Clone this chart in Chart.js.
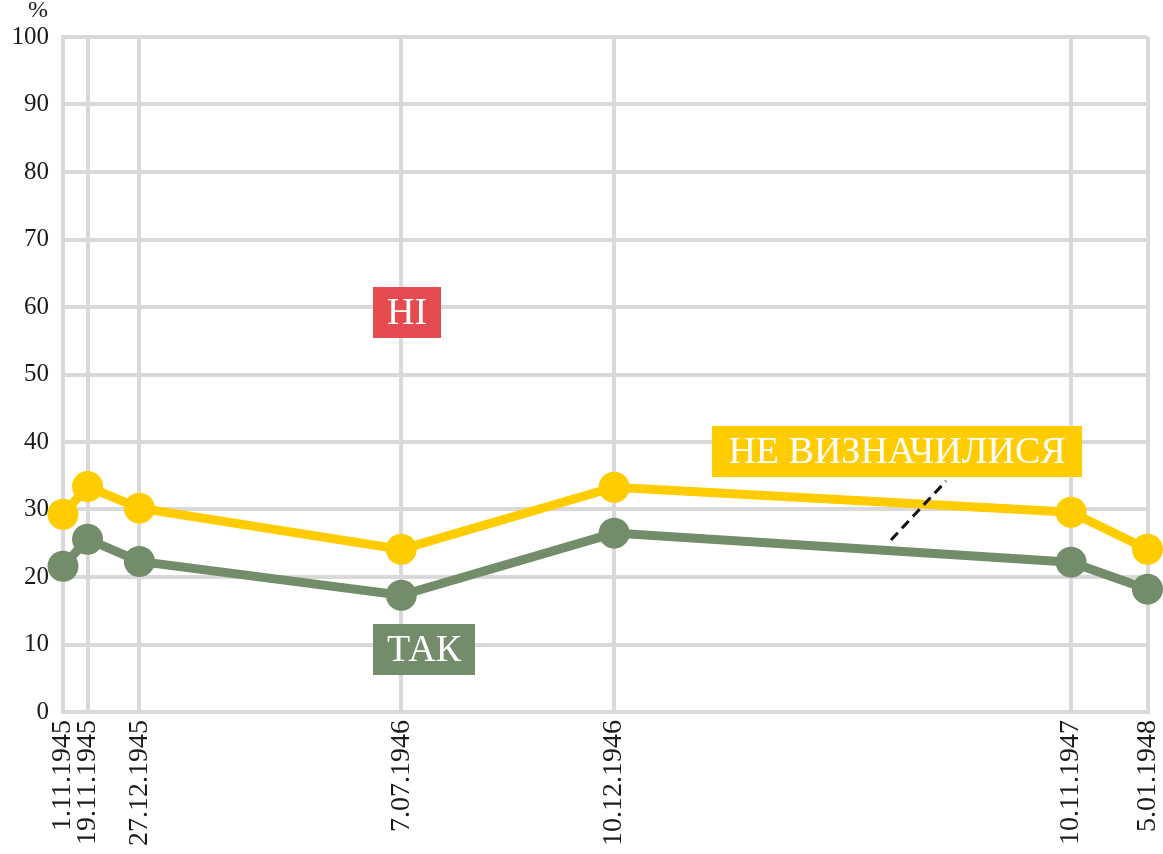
<!DOCTYPE html>
<html>
<head>
<meta charset="utf-8">
<script src="https://cdn.jsdelivr.net/npm/chart.js@4/dist/chart.umd.min.js"></script>
<style>
html,body{margin:0;padding:0;background:#fff;}
canvas{display:block;}
</style>
</head>
<body>
<canvas id="c" width="1163" height="854"></canvas>
<script>
// ---- data ----
const dateLabels = ['1.11.1945','19.11.1945','27.12.1945','7.07.1946','10.12.1946','10.11.1947','5.01.1948'];
const undecidedValues = [29.3, 33.4, 30.2, 24.1, 33.3, 29.6, 24.1]; // НЕ ВИЗНАЧИЛИСЯ (yellow)
const yesValues = [21.6, 25.6, 22.3, 17.3, 26.5, 22.2, 18.2];       // ТАК (green)
const yTickValues = [0,10,20,30,40,50,60,70,80,90,100];
const seriesNames = ['НЕ ВИЗНАЧИЛИСЯ','ТАК'];
const noLabel = 'НІ';
const unitLabel = '%';

// days since first date
function toDay(s){ const [d,m,y] = s.split('.').map(Number); return Date.UTC(y, m-1, d)/86400000; }
const day0 = toDay(dateLabels[0]);
const days = dateLabels.map(s => toDay(s) - day0);

const YELLOW = '#FFCC00', GREEN = '#738C6A', RED = '#E64C4F', GRID = '#D9D9D9';
const SERIF = "'Liberation Serif','DejaVu Serif',serif";

const annotations = {
  id: 'annotations',
  afterDatasetsDraw(chart){
    const ctx = chart.ctx;
    ctx.save();
    function box(text, l, t, r, b, color){
      ctx.fillStyle = color;
      ctx.fillRect(l, t, r-l, b-t);
      ctx.fillStyle = '#fff';
      ctx.font = "38px " + SERIF;
      ctx.textAlign = 'center';
      ctx.textBaseline = 'middle';
      ctx.fillText(text, (l+r)/2, (t+b)/2 + 2);
    }
    box(noLabel, 373, 287, 441, 338, RED);
    box(seriesNames[1], 373, 624, 475, 675, GREEN);
    box(seriesNames[0], 712, 426, 1082, 477, YELLOW);
    // leader line
    ctx.strokeStyle = '#111';
    ctx.lineWidth = 3;
    ctx.setLineDash([10,6]);
    ctx.beginPath();
    ctx.moveTo(891, 540);
    ctx.lineTo(946, 481);
    ctx.stroke();
    ctx.setLineDash([]);
    // unit label
    ctx.fillStyle = '#1a1a1a';
    ctx.font = "24px " + SERIF;
    ctx.textAlign = 'center';
    ctx.textBaseline = 'middle';
    ctx.fillText(unitLabel, 38, 11);
    ctx.restore();
  }
};

new Chart(document.getElementById('c'), {
  type: 'line',
  data: {
    datasets: [
      {
        label: seriesNames[1],
        data: days.map((d,i)=>({x:d, y:yesValues[i]})),
        borderColor: GREEN, backgroundColor: GREEN,
        borderWidth: 9, pointRadius: 15.5, pointHoverRadius: 15.5,
        pointBorderWidth: 0, tension: 0, clip: false
      },
      {
        label: seriesNames[0],
        data: days.map((d,i)=>({x:d, y:undecidedValues[i]})),
        borderColor: YELLOW, backgroundColor: YELLOW,
        borderWidth: 9, pointRadius: 15.5, pointHoverRadius: 15.5,
        pointBorderWidth: 0, tension: 0, clip: false
      }
    ]
  },
  options: {
    responsive: false,
    animation: false,
    devicePixelRatio: 1,
    layout: { padding: { top: 37, right: 12, left: 0, bottom: 0 } },
    plugins: { legend: { display: false }, tooltip: { enabled: false } },
    scales: {
      x: {
        type: 'linear',
        min: days[0], max: days[days.length-1],
        afterBuildTicks(scale){ scale.ticks = days.map(v => ({value: v})); },
        afterFit(scale){ scale.height = 142; scale.paddingLeft = 0; scale.paddingRight = 0; },
        grid: { color: GRID, lineWidth: 4, drawTicks: false },
        border: { display: true, color: GRID, width: 4 },
        ticks: {
          autoSkip: false, minRotation: 90, maxRotation: 90, padding: 8,
          color: '#1a1a1a', font: { family: SERIF, size: 28 },
          callback(v){ const i = days.indexOf(v); return i >= 0 ? dateLabels[i] : ''; }
        }
      },
      y: {
        min: 0, max: 100,
        afterBuildTicks(scale){ scale.ticks = yTickValues.map(v => ({value: v})); },
        afterFit(scale){ scale.width = 63; scale.paddingTop = 0; scale.paddingBottom = 0; },
        grid: { color: GRID, lineWidth: 4, drawTicks: false },
        border: { display: true, color: GRID, width: 4 },
        ticks: {
          padding: 14, color: '#1a1a1a', font: { family: SERIF, size: 25 }
        }
      }
    }
  },
  plugins: [annotations]
});
</script>
</body>
</html>
